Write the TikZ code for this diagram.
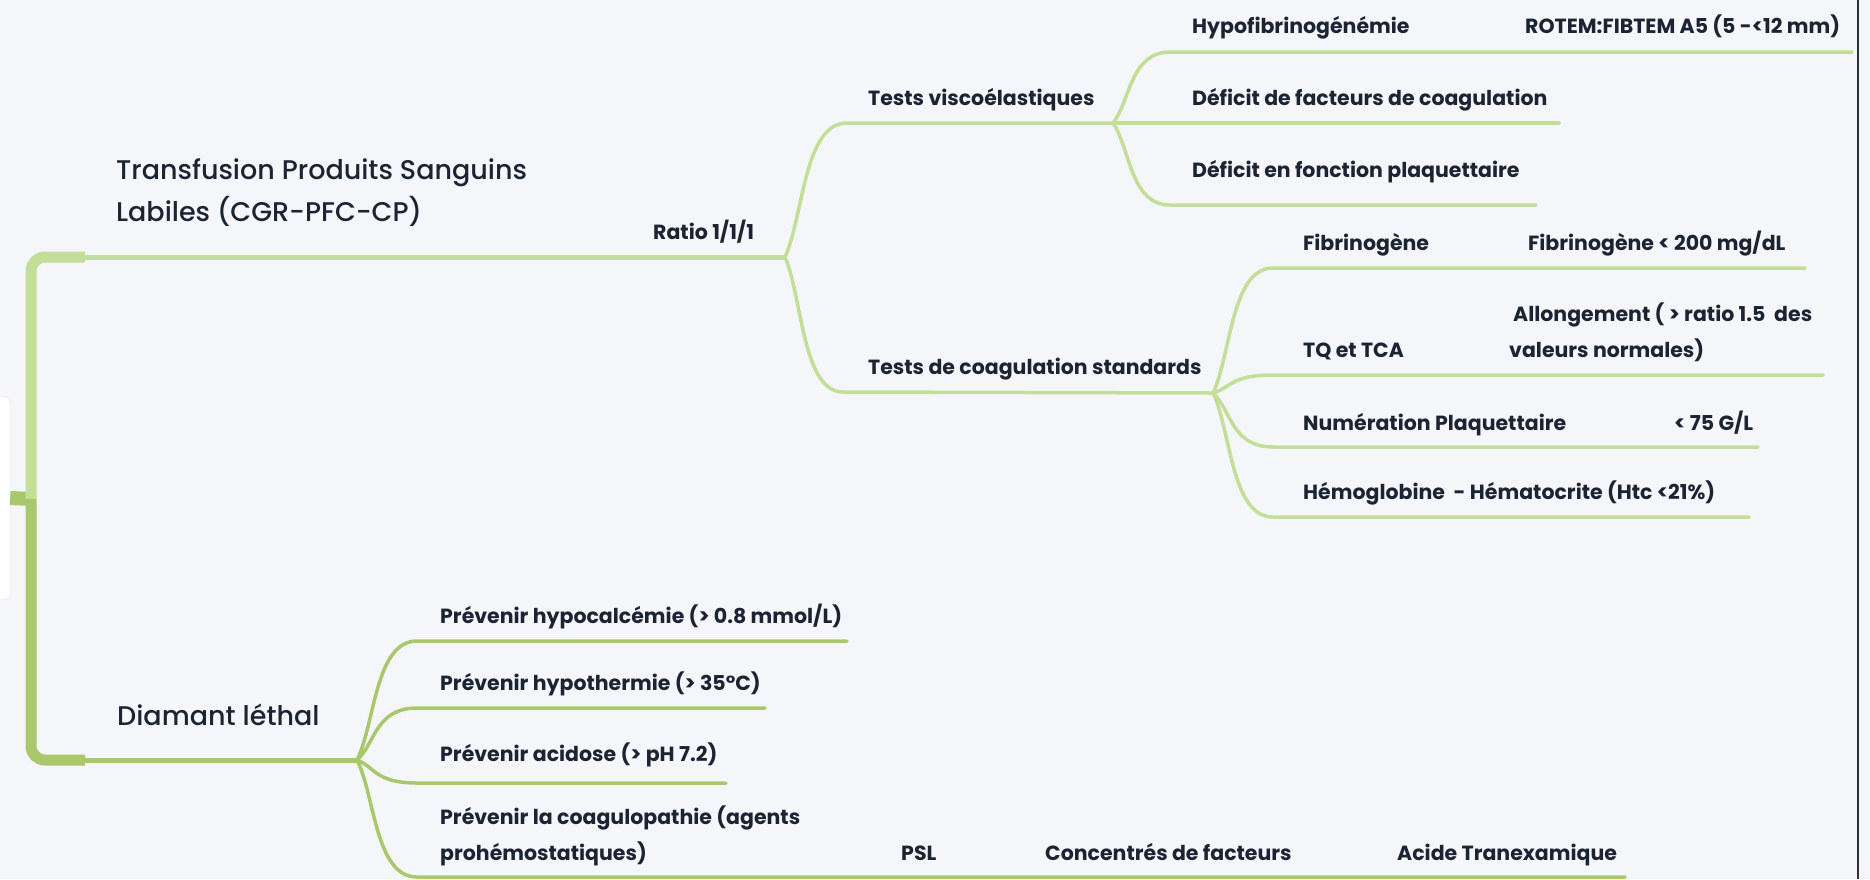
\documentclass[tikz,border=0pt]{standalone}
\usepackage{fontspec}
\setmainfont{Poppins}
\newfontfamily\headfont{Poppins Medium}
\usetikzlibrary{calc}

\definecolor{paper}{HTML}{F5F6FA}
\definecolor{ink}{HTML}{1C2333}
\definecolor{leafA}{HTML}{C3DF97}
\definecolor{leafB}{HTML}{A9C86C}
\definecolor{frame}{HTML}{E2E4EA}

\tikzset{
  lbl/.style={anchor=base west, inner sep=0pt, text=ink, align=left,
    font=\fontsize{20.5}{36}\selectfont\bfseries},
  head/.style={anchor=base west, inner sep=0pt, text=ink, align=left,
    font=\headfont\fontsize{27}{42}\selectfont},
  rootbox/.style={draw=frame, fill=white, rounded corners=5pt,
    minimum width=20pt, minimum height=203pt, inner sep=0pt},
  stem/.style={draw=leafB, line width=14pt},
  trunkA/.style={draw=leafA, line width=11pt, rounded corners=14pt},
  trunkB/.style={draw=leafB, line width=11pt, rounded corners=14pt},
  mainA/.style={draw=leafA, line width=5pt},
  mainB/.style={draw=leafB, line width=5pt},
  twigA/.style={draw=leafA, line width=3.5pt, line cap=round},
  twigB/.style={draw=leafB, line width=3.5pt, line cap=round},
  edge/.style={draw=black!80, line width=2pt}
}

\begin{document}
\begin{tikzpicture}[x=1pt, y=-1pt]
\useasboundingbox[fill=paper] (0,0) rectangle (1870,879);

% root and the two main branches
\node[rootbox] (root) at (0,498) {};
\draw[stem] (root.east) -- (31,499) coordinate (hub);
\draw[trunkA] (hub) |- (85,257) coordinate (aBend);
\draw[trunkB] (hub) |- (85,760) coordinate (dBend);

\coordinate (jA) at (785,257);
\coordinate (jD) at (357,760);
\draw[mainA] (aBend) -- (jA);
\draw[mainB] (dBend) -- (jD);

% upper branch
\coordinate (viscoS) at (847,123);
\coordinate (jV) at (1113,123);
\coordinate (coagS) at (843,392);
\coordinate (jC) at (1213,393);

\coordinate (hypoS) at (1170,52);  \coordinate (hypoE) at (1852,52);
\coordinate (facE) at (1559,123);
\coordinate (plaS) at (1170,205);  \coordinate (plaE) at (1536,205);

\coordinate (fibS) at (1273,268);  \coordinate (fibE) at (1805,268);
\coordinate (tqS) at (1273,375);   \coordinate (tqE) at (1823,375);
\coordinate (numS) at (1273,447);  \coordinate (numE) at (1758,447);
\coordinate (hemS) at (1273,517);  \coordinate (hemE) at (1749,517);

\foreach \from/\to/\stop in {jA/viscoS/jV, jA/coagS/jC,
    jV/hypoS/hypoE, jV/plaS/plaE,
    jC/fibS/fibE, jC/tqS/tqE, jC/numS/numE, jC/hemS/hemE}
  \draw[twigA] (\from) .. controls ($(\from)!0.3!(\to)$)
    and ($(\from |- \to)!0.3!(\to)$) .. (\to) -- (\stop);
\draw[twigA] (jV) -- (facE);

% lower branch
\coordinate (calS) at (417,641);   \coordinate (calE) at (847,641);
\coordinate (thermS) at (417,708); \coordinate (thermE) at (765,708);
\coordinate (acidS) at (417,783);  \coordinate (acidE) at (726,783);
\coordinate (coagpS) at (417,877); \coordinate (tranE) at (1625,877);

\foreach \to/\stop in {calS/calE, thermS/thermE, acidS/acidE, coagpS/tranE}
  \draw[twigB] (jD) .. controls ($(jD)!0.3!(\to)$)
    and ($(jD |- \to)!0.3!(\to)$) .. (\to) -- (\stop);

% labels
\node[head] (transf) at (116,221) {Transfusion Produits Sanguins\\Labiles (CGR-PFC-CP)};
\node[lbl] (ratio) at (653,239) {Ratio 1/1/1};
\node[lbl] (visco) at (868,105) {Tests viscoélastiques};
\node[lbl] (coag) at (868,374) {Tests de coagulation standards};

\node[lbl] (hypo) at (1192,33) {Hypofibrinogénémie};
\node[lbl] (rotem) at (1525,33) {ROTEM:FIBTEM A5 (5 -<12 mm)};
\node[lbl] (fac) at (1192,105) {Déficit de facteurs de coagulation};
\node[lbl] (pla) at (1192,177) {Déficit en fonction plaquettaire};

\node[lbl] (fib) at (1303,250) {Fibrinogène};
\node[lbl] (fibval) at (1528,250) {Fibrinogène < 200 mg/dL};
\node[lbl] (tq) at (1303,357) {TQ et TCA};
\node[lbl] (allong) at (1509,357) {\hspace{4pt}Allongement ( > ratio 1.5~ des\\valeurs normales)};
\node[lbl] (num) at (1303,430) {Numération Plaquettaire};
\node[lbl] (plt) at (1674,430) {< 75 G/L};
\node[lbl] (hem) at (1303,499) {Hémoglobine ~- Hématocrite (Htc <21\%)};

\node[head] (diam) at (117,725) {Diamant léthal};
\node[lbl] (cal) at (440,623) {Prévenir hypocalcémie (> 0.8 mmol/L)};
\node[lbl] (therm) at (440,690) {Prévenir hypothermie (> 35°C)};
\node[lbl] (acid) at (440,761) {Prévenir acidose (> pH 7.2)};
\node[lbl] (coagp) at (440,860) {Prévenir la coagulopathie (agents\\prohémostatiques)};
\node[lbl] (psl) at (901,860) {PSL};
\node[lbl] (conc) at (1045,860) {Concentrés de facteurs};
\node[lbl] (tranex) at (1397,860) {Acide Tranexamique};

% screen edge
\draw[edge] (1858,0) -- (1858,879);
\end{tikzpicture}
\end{document}
